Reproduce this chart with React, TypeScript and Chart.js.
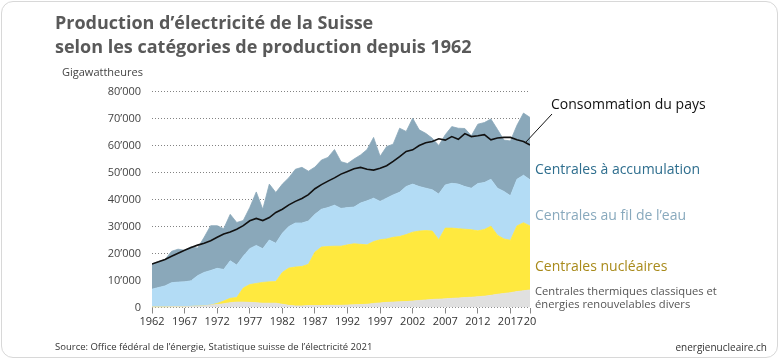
import React, { useEffect, useRef } from "react";
import { Chart, registerables } from "chart.js";

Chart.register(...registerables);

// ---- Data (GWh) ----
const years = [
  1962, 1963, 1964, 1965, 1966, 1967, 1968, 1969, 1970, 1971,
  1972, 1973, 1974, 1975, 1976, 1977, 1978, 1979, 1980, 1981,
  1982, 1983, 1984, 1985, 1986, 1987, 1988, 1989, 1990, 1991,
  1992, 1993, 1994, 1995, 1996, 1997, 1998, 1999, 2000, 2001,
  2002, 2003, 2004, 2005, 2006, 2007, 2008, 2009, 2010, 2011,
  2012, 2013, 2014, 2015, 2016, 2017, 2018, 2019, 2020,
];

const thermal = [
  200, 200, 200, 300, 300, 300, 400, 500, 600, 900,
  1100, 1400, 1800, 2000, 2000, 1900, 1800, 1600, 1600, 1600,
  1200, 800, 600, 600, 700, 700, 700, 800, 800, 800,
  900, 1000, 1100, 1200, 1500, 1700, 1900, 2000, 2100, 2200,
  2400, 2600, 2800, 3000, 3100, 3200, 3400, 3500, 3700, 3800,
  4000, 4200, 4500, 4900, 5200, 5500, 5900, 6200, 6500,
];

const nuclear = [
  0, 0, 0, 0, 0, 0, 0, 0, 0, 0,
  400, 1000, 1600, 1700, 5200, 6600, 7100, 7700, 7900, 8000,
  11800, 13800, 14400, 14600, 15300, 19800, 21700, 21800, 21900, 21900,
  22300, 22600, 22300, 22000, 22900, 23400, 23500, 24000, 24200, 24800,
  25500, 25700, 25700, 25300, 22000, 26200, 26000, 25700, 25300, 25000,
  24400, 24700, 25600, 21900, 20200, 19400, 24300, 25200, 23700,
];

const runOfRiver = [
  6600, 7200, 7800, 8900, 9100, 9200, 9500, 11300, 12400, 12800,
  13000, 11700, 13900, 12000, 11800, 13300, 14100, 12500, 15500, 14200,
  14500, 15400, 16300, 16100, 16000, 14000, 14000, 14400, 15200, 14000,
  13800, 13600, 15300, 16300, 16100, 14200, 15100, 15700, 16400, 17800,
  17800, 16500, 15700, 15300, 16900, 16000, 16600, 16500, 15800, 15400,
  17500, 17400, 17400, 17400, 17600, 16500, 17300, 17600, 17100,
];

const storage = [
  9400, 9600, 9800, 11600, 12200, 11700, 12600, 10200, 13000, 16600,
  15800, 15100, 17200, 15800, 13200, 15200, 19800, 14600, 20700, 18800,
  18200, 18100, 19900, 20600, 18500, 17500, 18200, 18600, 20600, 17300,
  16300, 17800, 17800, 19000, 22500, 16700, 19100, 18800, 23700, 20400,
  24400, 21000, 20300, 19100, 18000, 18600, 21000, 20700, 21500, 19400,
  22000, 22200, 22300, 21800, 19000, 20300, 20000, 23000, 23100,
];

const consumption = [
  16100, 16900, 17800, 19000, 20100, 21200, 22200, 23100, 23800, 24700,
  26000, 27200, 28000, 29000, 30300, 32100, 33000, 32200, 33300, 35200,
  36400, 38000, 39300, 40400, 41800, 44000, 45500, 46800, 48000, 49400,
  50400, 51400, 51900, 51200, 50900, 51600, 52500, 54100, 55900, 57800,
  58400, 60000, 61000, 61500, 62500, 62000, 63300, 62300, 64400, 63300,
  63600, 64000, 62100, 62800, 63000, 63000, 62100, 61500, 60200,
];

const yTickValues = [0, 10000, 20000, 30000, 40000, 50000, 60000, 70000, 80000];
const yTickLabels = ["0", "10’000", "20’000", "30’000", "40’000", "50’000", "60’000", "70’000", "80’000"];
const xTickYears = [1962, 1967, 1972, 1977, 1982, 1987, 1992, 1997, 2002, 2007, 2012, 2017, 2020];
const xTickLabels = ["1962", "1967", "1972", "1977", "1982", "1987", "1992", "1997", "2002", "2007", "2012", "2017", "20"];

const FONT = "'Open Sans', 'Noto Sans', sans-serif";

const COLORS = {
  thermal: "#e0e0e0",
  nuclear: "#ffe93f",
  river: "#b3dcf5",
  storage: "#8aa8ba",
  line: "#111111",
};

function pts(arr: number[]) {
  return years.map((y, i) => ({ x: y, y: arr[i] }));
}

const abs = (o: React.CSSProperties): React.CSSProperties => ({
  position: "absolute",
  whiteSpace: "nowrap",
  fontFamily: FONT,
  margin: 0,
  ...o,
});

export default function App() {
  const ref = useRef<HTMLCanvasElement | null>(null);

  useEffect(() => {
    document.body.style.margin = "0";
    const canvas = ref.current;
    if (!canvas) return;
    const area = (label: string, data: number[], color: string, fill: any) => ({
      label,
      data: pts(data),
      backgroundColor: color,
      borderColor: color,
      borderWidth: 0.8,
      fill,
      pointRadius: 0,
      tension: 0,
      stack: "prod",
      order: 1,
    });
    const chart = new Chart(canvas, {
      type: "line",
      data: {
        datasets: [
          area("Centrales thermiques", thermal, COLORS.thermal, "origin"),
          area("Centrales nucléaires", nuclear, COLORS.nuclear, "-1"),
          area("Centrales au fil de l'eau", runOfRiver, COLORS.river, "-1"),
          area("Centrales à accumulation", storage, COLORS.storage, "-1"),
          {
            label: "Consommation du pays",
            data: pts(consumption),
            borderColor: COLORS.line,
            backgroundColor: COLORS.line,
            borderWidth: 1.6,
            fill: false,
            pointRadius: 0,
            tension: 0,
            stack: "cons",
            order: -1,
          } as any,
        ],
      },
      options: {
        animation: false,
        responsive: false,
        devicePixelRatio: 1,
        layout: { padding: { left: 0, right: 250, top: 91.5, bottom: 0 } },
        plugins: {
          legend: { display: false },
          tooltip: { enabled: false },
          title: { display: false },
        },
        scales: {
          x: {
            type: "linear",
            min: 1962,
            max: 2020,
            afterBuildTicks: (s: any) => {
              s.ticks = xTickYears.map((v) => ({ value: v }));
            },
            afterFit: (s: any) => {
              s.height = 52.5;
            },
            grid: {
              drawOnChartArea: false,
              drawTicks: true,
              tickLength: 6,
              color: "#888",
              lineWidth: 1,
            },
            border: { display: false, dash: [1, 1] },
            ticks: {
              autoSkip: false,
              maxRotation: 0,
              padding: 2,
              color: "#333",
              font: { family: FONT, size: 11 },
              callback: (_v: any, i: number) => xTickLabels[i],
            },
          },
          y: {
            stacked: true,
            min: 0,
            max: 80000,
            z: 1,
            afterBuildTicks: (s: any) => {
              s.ticks = yTickValues.map((v) => ({ value: v }));
            },
            afterFit: (s: any) => {
              s.width = 152;
            },
            grid: {
              drawTicks: false,
              color: "rgba(90,90,90,0.75)",
              lineWidth: 1,
            },
            border: { display: false, dash: [1, 2] },
            ticks: {
              padding: 11,
              color: "#444",
              font: { family: FONT, size: 11 },
              callback: (_v: any, i: number) => yTickLabels[i],
            },
          },
        },
      } as any,
    });
    return () => chart.destroy();
  }, []);

  return (
    <div style={{ position: "relative", width: 780, height: 360, background: "#fff", overflow: "hidden" }}>
      <div
        style={{
          position: "absolute",
          left: 1,
          top: 1,
          width: 775,
          height: 355,
          border: "1.5px solid #d8d8d8",
          borderRadius: 12,
        }}
      />
      <canvas ref={ref} width={780} height={360} style={{ position: "absolute", left: 0, top: 0 }} />
      <div style={abs({ left: 55, top: 10, fontSize: 18, lineHeight: "24px", fontWeight: 700, color: "#595959" })}>
        Production d’électricité de la Suisse
        <br />
        selon les catégories de production depuis 1962
      </div>
      <div style={abs({ left: 62, top: 64, fontSize: 11, lineHeight: "16px", color: "#444" })}>Gigawattheures</div>
      <svg width={780} height={360} style={{ position: "absolute", left: 0, top: 0, pointerEvents: "none" }}>
        <line x1={525} y1={143} x2={552} y2={114} stroke="#111" strokeWidth={1} />
      </svg>
      <div style={abs({ left: 551, top: 95, fontSize: 14, lineHeight: "18px", color: "#111" })}>Consommation du pays</div>
      <div style={abs({ left: 535, top: 160, fontSize: 14, lineHeight: "18px", color: "#2e6e8e" })}>Centrales à accumulation</div>
      <div style={abs({ left: 535, top: 206, fontSize: 14, lineHeight: "18px", color: "#88a9bd" })}>Centrales au fil de l’eau</div>
      <div style={abs({ left: 535, top: 257, fontSize: 14, lineHeight: "18px", color: "#a88a1a" })}>Centrales nucléaires</div>
      <div style={abs({ left: 535, top: 284, fontSize: 11.2, lineHeight: "13px", color: "#555" })}>
        Centrales thermiques classiques et
        <br />
        énergies renouvelables divers
      </div>
      <div style={abs({ left: 55, top: 340, fontSize: 9.5, lineHeight: "14px", color: "#333" })}>
        Source: Office fédéral de l’énergie, Statistique suisse de l’électricité 2021
      </div>
      <div style={abs({ right: 13, top: 340, fontSize: 10, lineHeight: "14px", color: "#333" })}>energienucleaire.ch</div>
    </div>
  );
}
